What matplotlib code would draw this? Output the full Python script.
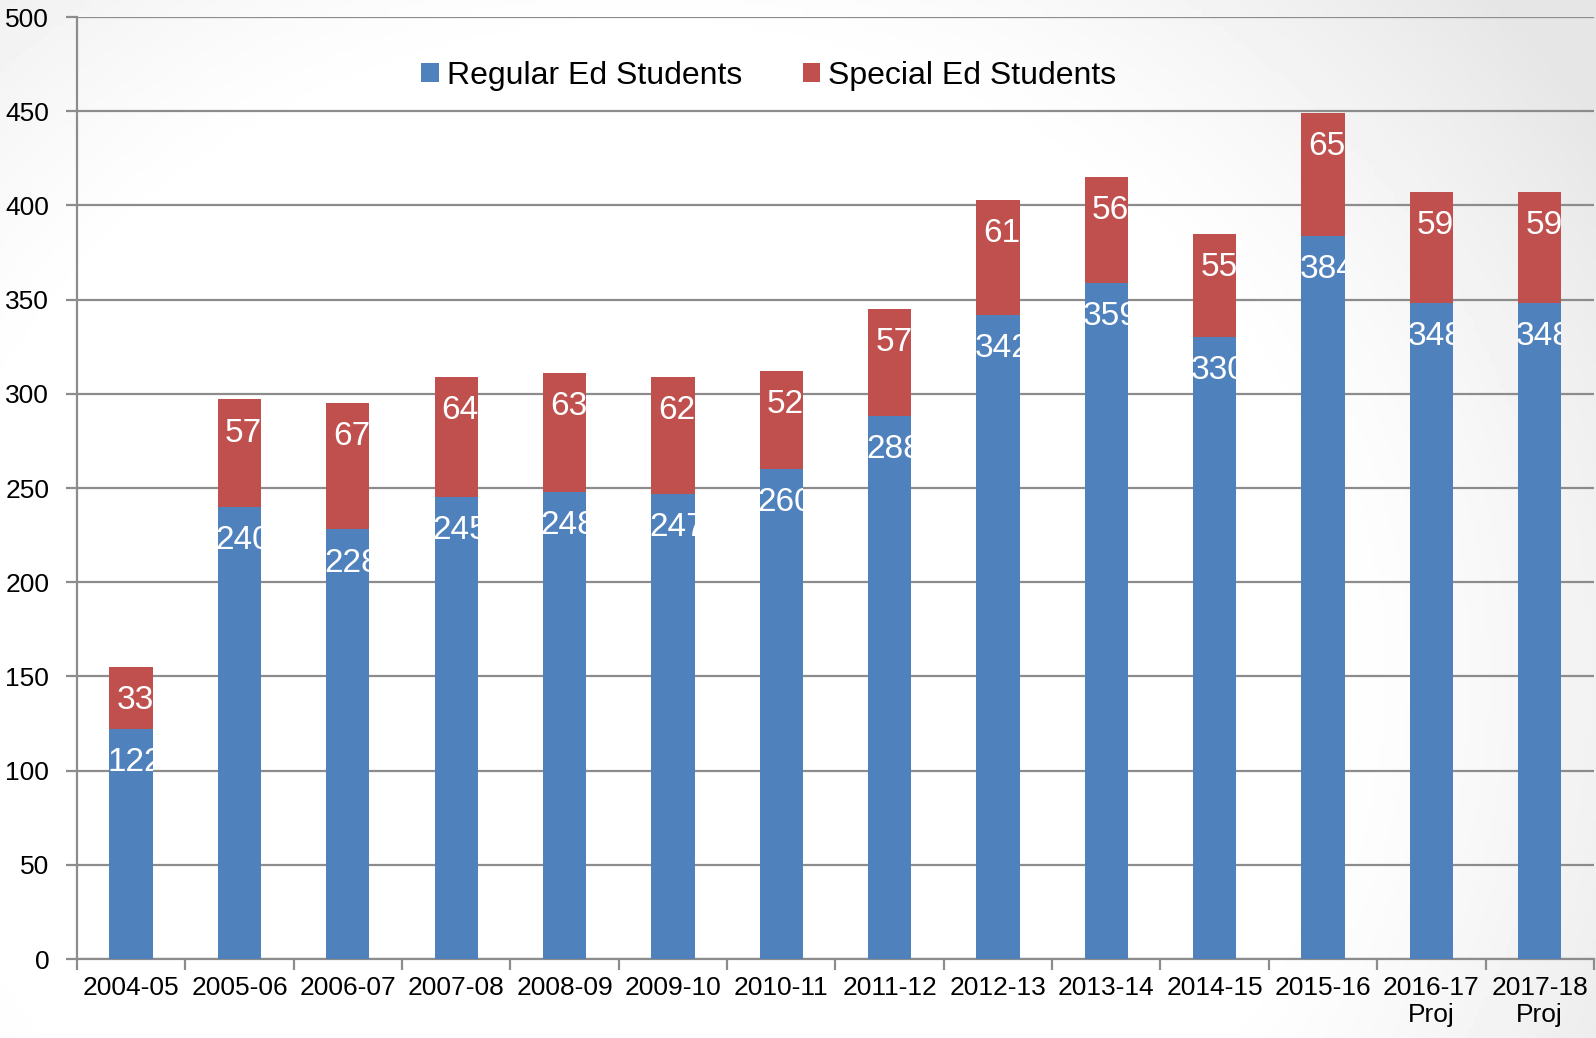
import numpy as np
import matplotlib
matplotlib.use("Agg")
import matplotlib.pyplot as plt

years = ["2004-05", "2005-06", "2006-07", "2007-08", "2008-09", "2009-10",
         "2010-11", "2011-12", "2012-13", "2013-14", "2014-15", "2015-16",
         "2016-17\nProj", "2017-18\nProj"]
regular_ed = [122, 240, 228, 245, 248, 247, 260, 288, 342, 359, 330, 384, 348, 348]
special_ed = [33, 57, 67, 64, 63, 62, 52, 57, 61, 56, 55, 65, 59, 59]

BLUE = "#4F81BD"
RED = "#C0504D"
GRID = "#8C8C8C"

plt.rcParams["font.family"] = ["Liberation Sans", "DejaVu Sans"]

fig = plt.figure(figsize=(15.96, 10.38), dpi=100)

# soft slide-style background, slightly darker toward the upper corners
bg = fig.add_axes([0, 0, 1, 1], zorder=-10)
yy, xx = np.mgrid[0:1:200j, 0:1:300j]
r = np.hypot((xx - 0.4) * 1.4, (yy - 0.65))
shade = 1 - 0.1 * np.clip((r - 0.6) / 0.4, 0, 1) ** 1.3
bg.imshow(shade, cmap="gray", vmin=0, vmax=1, aspect="auto",
          extent=[0, 1, 0, 1], origin="upper")
bg.axis("off")

ax = fig.add_axes([0.0482, 0.0761, 0.9505, 0.9075])
ax.set_facecolor("none")

x = np.arange(len(years))
width = 0.4
bars_reg = ax.bar(x, regular_ed, width, color=BLUE, label="Regular Ed Students",
                  zorder=3)
bars_spe = ax.bar(x, special_ed, width, bottom=regular_ed, color=RED,
                  label="Special Ed Students", zorder=3)

# value labels near the top of each segment, clipped to the bar
for bars, vals, bottoms in ((bars_reg, regular_ed, [0] * len(years)),
                            (bars_spe, special_ed, regular_ed)):
    for bar, v, b in zip(bars, vals, bottoms):
        t = ax.annotate(str(v), (bar.get_x() + bar.get_width() / 2, b + v),
                        xytext=(3, -13), textcoords="offset points",
                        ha="center", va="top", color="white", fontsize=24,
                        zorder=4)
        t.set_clip_path(bar)

ax.set_ylim(0, 500)
ax.set_xlim(-0.5, len(years) - 0.5)
ax.set_yticks(range(0, 501, 50))
ax.yaxis.grid(True, color=GRID, linewidth=1.6, zorder=0)
ax.set_axisbelow(True)

ax.set_xticks(x)
ax.set_xticklabels(years, fontsize=19)
ax.set_xticks(np.arange(-0.5, len(years), 1.0), minor=True)
ax.tick_params(axis="x", which="major", length=0, pad=12)
ax.tick_params(axis="x", which="minor", length=8, width=1.6, color=GRID)
ax.tick_params(axis="y", length=8, width=1.6, color=GRID, labelsize=19,
               pad=12)

for side in ("top", "right"):
    ax.spines[side].set_visible(False)
for side in ("left", "bottom"):
    ax.spines[side].set_color(GRID)
    ax.spines[side].set_linewidth(1.6)

ax.legend(loc="upper center", bbox_to_anchor=(0.456, 0.984), ncol=2,
          frameon=False, fontsize=23, handlelength=0.55, handleheight=0.55,
          handletextpad=0.25, columnspacing=1.9)

fig.savefig("out.png", dpi=100)
